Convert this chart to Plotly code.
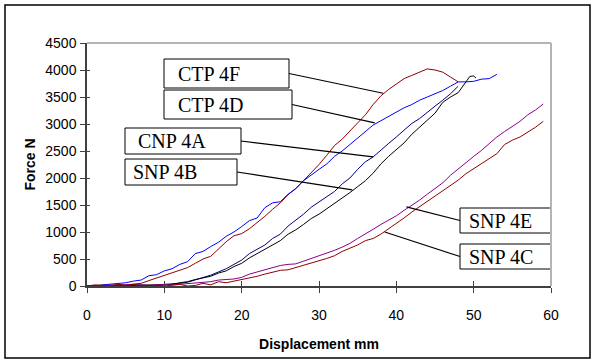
import plotly.graph_objects as go

# Force-displacement records (displacement in mm, force in N)
ctp4f_x = list(range(0, 49))
ctp4f_y = [0, 10, 20, 10, 30, 20, 30, 50, 100, 150, 200, 240, 300, 340, 420, 500,
           550, 680, 820, 930, 970, 1060, 1170, 1290, 1420, 1540, 1690, 1810, 1950,
           2100, 2250, 2420, 2600, 2720, 2880, 3020, 3170, 3360, 3520, 3640, 3740,
           3840, 3900, 3960, 4020, 4000, 3960, 3870, 3780]

ctp4d_x = list(range(0, 54))
ctp4d_y = [0, -20, 20, 30, 40, 60, 90, 110, 190, 210, 280, 320, 400, 450, 600, 640,
           730, 810, 920, 1000, 1100, 1210, 1260, 1450, 1540, 1560, 1700, 1800, 1950,
           2060, 2160, 2260, 2400, 2500, 2620, 2740, 2870, 2980, 3060, 3140, 3220,
           3300, 3360, 3440, 3500, 3560, 3620, 3700, 3780, 3780, 3790, 3830, 3840, 3920]

cnp4a_x = list(range(0, 49))
cnp4a_y = [0, 10, -10, 0, 10, 0, 10, 20, 10, 20, 30, 30, 50, 70, 110, 160, 200, 260,
           320, 400, 480, 600, 680, 760, 880, 960, 1110, 1220, 1330, 1460, 1560, 1660,
           1750, 1890, 2000, 2160, 2300, 2390, 2520, 2640, 2760, 2880, 3010, 3100,
           3220, 3330, 3440, 3560, 3700]

snp4b_x = list(range(0, 50)) + [49.5, 50, 50.3]
snp4b_y = [0, 10, -40, -10, 10, 10, 20, 10, 20, 10, 20, 30, 60, 80, 120, 150, 180,
           240, 280, 360, 420, 520, 600, 680, 760, 840, 960, 1040, 1140, 1250, 1330,
           1430, 1520, 1620, 1730, 1840, 1950, 2090, 2260, 2400, 2520, 2650, 2810,
           2940, 3080, 3200, 3400, 3500, 3580, 3780, 3880, 3890, 3850]

snp4e_x = list(range(0, 60))
snp4e_y = [0, 10, 0, 20, 10, 20, 30, 20, 10, 20, 30, 20, 30, 40, 50, 60, 80, 110, 120,
           130, 160, 220, 260, 300, 340, 380, 400, 410, 460, 510, 560, 600, 660, 720,
           790, 880, 960, 1050, 1140, 1220, 1300, 1400, 1490, 1590, 1700, 1800, 1910,
           2050, 2170, 2290, 2400, 2510, 2630, 2760, 2860, 2960, 3050, 3170, 3260, 3370]

snp4c_x = list(range(0, 60))
snp4c_y = [0, 20, 10, -10, 20, 10, 30, 0, 10, 20, 0, 10, 30, 0, 10, 50, 20, 80, 60, 90,
           120, 140, 180, 220, 250, 290, 300, 340, 380, 420, 470, 510, 560, 640, 700,
           760, 840, 880, 960, 1060, 1150, 1260, 1370, 1470, 1560, 1660, 1760, 1870,
           1960, 2080, 2170, 2260, 2360, 2450, 2620, 2700, 2760, 2850, 2940, 3050]

x_ticks = [0, 10, 20, 30, 40, 50, 60]
y_ticks = [0, 500, 1000, 1500, 2000, 2500, 3000, 3500, 4000, 4500]

series = [
    ("CTP 4F", ctp4f_x, ctp4f_y, "#900000"),
    ("CTP 4D", ctp4d_x, ctp4d_y, "#0000ff"),
    ("CNP 4A", cnp4a_x, cnp4a_y, "#000080"),
    ("SNP 4B", snp4b_x, snp4b_y, "#000000"),
    ("SNP 4E", snp4e_x, snp4e_y, "#8a008a"),
    ("SNP 4C", snp4c_x, snp4c_y, "#900000"),
]

# canvas geometry
W, H = 594, 361
L, R, T, B = 87, 551, 43, 286
XMAX, YMAX = 60, 4500


def dx(px):
    return (px - L) / (R - L) * XMAX


def dy(py):
    return (B - py) / (B - T) * YMAX


def paper_x(px):
    return (px - L) / (R - L)


def paper_y(py):
    return (B - py) / (B - T)


# callout boxes (pixel box: left, top, right, bottom; text inset; side of leader; leader tip in data units)
callouts = [
    ("CTP 4F", (164, 59, 289, 88), 12, "right", (38.3, 3570)),
    ("CTP 4D", (164, 90, 292, 119), 12, "right", (37.2, 3020)),
    ("CNP 4A", (125, 128, 241, 154), 11, "right", (37.0, 2390)),
    ("SNP 4B", (125, 159, 237, 185), 6, "right", (34.3, 1780)),
    ("SNP 4E", (460, 208, 562, 233), 7, "left", (41.3, 1465)),
    ("SNP 4C", (460, 244, 562, 269), 7, "left", (38.5, 1000)),
]

fig = go.Figure()
for name, xs, ys, color in series:
    fig.add_trace(go.Scatter(x=xs, y=ys, mode="lines", name=name,
                             line=dict(color=color, width=1), showlegend=False))

# helper trace so the inner-tick axes get drawn
fig.add_trace(go.Scatter(x=[None], y=[None], xaxis="x2", yaxis="y2",
                         showlegend=False, hoverinfo="skip"))

shapes = []
annotations = []
serif = "Times New Roman, Liberation Serif, serif"
for text, (bl, bt, br, bb), inset, side, (tx, ty) in callouts:
    shapes.append(dict(type="rect", xref="x", yref="y",
                       x0=dx(bl), x1=dx(br), y0=dy(bb), y1=dy(bt),
                       line=dict(color="#000000", width=1), fillcolor="white",
                       layer="above"))
    sx = br if side == "right" else bl
    sy = (bt + bb) / 2
    shapes.append(dict(type="line", xref="x", yref="y",
                       x0=dx(sx), y0=dy(sy), x1=tx, y1=ty,
                       line=dict(color="#000000", width=1.2), layer="above"))
    annotations.append(dict(text=text, xref="x", yref="y",
                            x=dx(bl + inset), y=dy(sy), xanchor="left", yanchor="middle",
                            showarrow=False, font=dict(family=serif, size=20, color="#000")))

# plot area frame: top and right in grey
shapes.append(dict(type="line", xref="paper", yref="paper", x0=0, x1=1, y0=1, y1=1,
                   line=dict(color="#b4b4b4", width=2)))
shapes.append(dict(type="line", xref="paper", yref="paper", x0=1, x1=1, y0=0, y1=1,
                   line=dict(color="#b4b4b4", width=2)))
# outer chart border
shapes.append(dict(type="rect", xref="paper", yref="paper",
                   x0=paper_x(5), x1=paper_x(590), y0=paper_y(358), y1=paper_y(5),
                   line=dict(color="#000000", width=1.5)))

sans = "Arial, Liberation Sans, sans-serif"
axis_common = dict(showgrid=False, zeroline=False, linecolor="#404040", linewidth=1.5,
                   tickcolor="#404040", tickwidth=1, ticklen=5)

fig.update_layout(
    width=W, height=H,
    margin=dict(l=L, r=W - R, t=T, b=H - B),
    paper_bgcolor="white", plot_bgcolor="white",
    font=dict(family=sans, size=14, color="#000"),
    xaxis=dict(range=[0, XMAX], tickvals=x_ticks, ticks="outside", showline=True,
               ticklabelstandoff=10,
               title=dict(text="<b>Displacement mm</b>", font=dict(size=14), standoff=18),
               **axis_common),
    yaxis=dict(range=[0, YMAX], tickvals=y_ticks, ticks="outside", showline=True,
               ticklabelstandoff=1,
               title=dict(text="<b>Force N</b>", font=dict(size=14), standoff=6),
               **axis_common),
    xaxis2=dict(range=[0, XMAX], tickvals=x_ticks, ticks="inside", overlaying="x",
                side="bottom", showticklabels=False, showline=False, anchor="y2",
                **{k: v for k, v in axis_common.items() if k not in ("linecolor", "linewidth")}),
    yaxis2=dict(range=[0, YMAX], tickvals=y_ticks, ticks="inside", overlaying="y",
                side="left", showticklabels=False, showline=False, anchor="x2",
                ticklen=3, showgrid=False, zeroline=False, tickcolor="#404040", tickwidth=1),
    shapes=shapes,
    annotations=annotations,
)

fig.write_html("out.html")
